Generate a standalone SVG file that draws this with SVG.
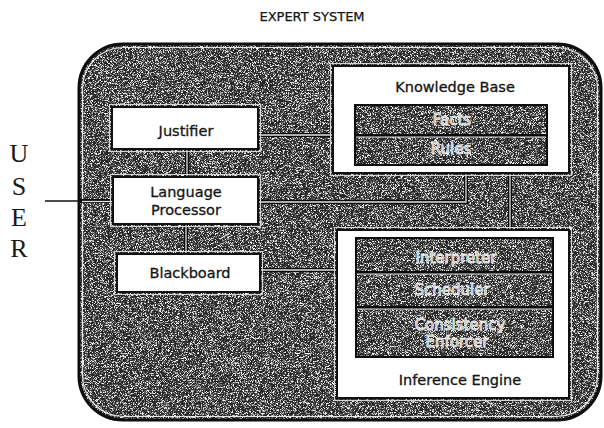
<svg xmlns="http://www.w3.org/2000/svg" width="604" height="428" viewBox="0 0 604 428">
  <defs>
    <!-- halftone grain used on the dark panel and the inner module strips -->
    <filter id="grain" x="0" y="0" width="1" height="1">
      <feTurbulence type="fractalNoise" baseFrequency="1.4" numOctaves="2" seed="7" result="noise"/>
      <feColorMatrix in="noise" type="matrix" values="0 0 0 0 1  0 0 0 0 1  0 0 0 0 1  1 0 0 0 0" result="mono"/>
      <feComponentTransfer in="mono" result="dots">
        <feFuncA type="linear" slope="5" intercept="-2.4"/>
      </feComponentTransfer>
      <feComposite in="dots" in2="SourceGraphic" operator="in"/>
    </filter>
    <style>
      .panel { fill: #262626; stroke: #0d0d0d; stroke-width: 3; }
      .panel-rim { fill: none; stroke: #e6e6e6; stroke-width: 1.2; }
      .speck { fill: #d0d0d0; filter: url(#grain); }
      .box { fill: #ffffff; stroke: #111111; stroke-width: 2; }
      .halo { fill: none; stroke: #d4d4d4; stroke-width: 1; }
      .strip { fill: #262626; stroke: #0d0d0d; stroke-width: 2; }
      .wire-bg { fill: none; stroke: #0a0a0a; stroke-width: 4; }
      .wire { fill: none; stroke: #e4e4e4; stroke-width: 1.3; }
      .lbl { font-family: "DejaVu Sans", "Liberation Sans", sans-serif; font-size: 14.5px; fill: #141414; stroke: #141414; stroke-width: 0.3; text-anchor: middle; }
      .hollow { font-family: "DejaVu Sans", "Liberation Sans", sans-serif; font-size: 15px; fill: #8c8c8c; stroke: #f4f4f4; stroke-width: 0.8; text-anchor: middle; }
      .title { font-family: "DejaVu Sans", "Liberation Sans", sans-serif; font-size: 13px; fill: #141414; stroke: #141414; stroke-width: 0.25; text-anchor: middle; }
      .user { font-family: "Liberation Serif", "DejaVu Serif", serif; font-size: 26px; fill: #1a1a1a; text-anchor: middle; }
    </style>
  </defs>

  <rect width="604" height="428" fill="#ffffff"/>

  <text class="title" x="312" y="21">EXPERT SYSTEM</text>

  <!-- USER label, stacked letters -->
  <g id="user">
    <text class="user" x="19" y="162">U</text>
    <text class="user" x="19" y="195">S</text>
    <text class="user" x="19" y="226">E</text>
    <text class="user" x="19" y="257">R</text>
  </g>

  <!-- expert system enclosure -->
  <g id="expert-system">
    <rect class="panel" x="79" y="44" width="522" height="376" rx="44" ry="44"/>
    <rect class="speck" x="80.5" y="45.5" width="519" height="373" rx="43" ry="43"/>
    <rect class="panel-rim" x="82.5" y="47.5" width="515" height="369" rx="41" ry="41"/>
  </g>

  <!-- connectors -->
  <g id="connectors">
    <line x1="45" y1="201" x2="80" y2="201" stroke="#111" stroke-width="1.6"/>
    <g class="wire-bg">
      <line x1="80" y1="201" x2="113" y2="201"/>
      <line x1="187" y1="149" x2="187" y2="177"/>
      <line x1="186" y1="224" x2="186" y2="254"/>
      <line x1="258" y1="135" x2="333" y2="135"/>
      <path d="M258,202 H466 V173"/>
      <line x1="510" y1="173" x2="510" y2="230"/>
      <line x1="260" y1="270" x2="337" y2="270"/>
    </g>
    <g class="wire">
      <line x1="82" y1="201.5" x2="113" y2="201.5"/>
      <line x1="187" y1="149" x2="187" y2="177"/>
      <line x1="186" y1="224" x2="186" y2="254"/>
      <line x1="258" y1="135" x2="333" y2="135"/>
      <path d="M258,202 H466 V173"/>
      <line x1="510" y1="173" x2="510" y2="230"/>
      <line x1="260" y1="270" x2="337" y2="270"/>
    </g>
    <path d="M220,239 L228,234" stroke="#e8e8e8" stroke-width="1.4" fill="none"/>
  </g>

  <g id="justifier">
    <rect class="halo" x="109.5" y="104.5" width="151" height="47"/>
    <rect class="box" x="112" y="107" width="146" height="42"/>
    <text class="lbl" x="186" y="136">Justifier</text>
  </g>

  <g id="language-processor">
    <rect class="halo" x="110.5" y="174.5" width="150" height="52"/>
    <rect class="box" x="113" y="177" width="145" height="47"/>
    <text class="lbl" x="186" y="197">Language</text>
    <text class="lbl" x="186" y="215">Processor</text>
  </g>

  <g id="blackboard">
    <rect class="halo" x="114.5" y="251.5" width="148" height="43"/>
    <rect class="box" x="117" y="254" width="143" height="38"/>
    <text class="lbl" x="190" y="278">Blackboard</text>
  </g>

  <g id="knowledge-base">
    <rect class="halo" x="330.5" y="63.5" width="241" height="112"/>
    <rect class="box" x="333" y="66" width="236" height="107"/>
    <text class="lbl" x="455" y="92">Knowledge Base</text>
    <rect class="strip" x="355" y="105" width="192" height="60"/>
    <rect class="speck" x="356" y="106" width="190" height="58"/>
    <line x1="356" y1="135.5" x2="546" y2="135.5" stroke="#0a0a0a" stroke-width="3"/>
    <line x1="356" y1="137" x2="546" y2="137" stroke="#e2e2e2" stroke-width="1.1"/>
    <text class="hollow" x="452" y="125">Facts</text>
    <text class="hollow" x="451" y="154">Rules</text>
  </g>

  <g id="inference-engine">
    <rect class="halo" x="334.5" y="227.5" width="237" height="173"/>
    <rect class="box" x="337" y="230" width="232" height="168"/>
    <rect class="strip" x="356" y="238" width="197" height="119"/>
    <rect class="speck" x="357" y="239" width="195" height="117"/>
    <line x1="357" y1="272.5" x2="552" y2="272.5" stroke="#0a0a0a" stroke-width="3"/>
    <line x1="357" y1="274" x2="552" y2="274" stroke="#e2e2e2" stroke-width="1.1"/>
    <line x1="357" y1="307.5" x2="552" y2="307.5" stroke="#0a0a0a" stroke-width="3"/>
    <line x1="357" y1="309" x2="552" y2="309" stroke="#e2e2e2" stroke-width="1.1"/>
    <text class="hollow" x="456" y="263">Interpreter</text>
    <text class="hollow" x="452" y="295">Scheduler</text>
    <text class="hollow" x="460" y="330">Consistency</text>
    <text class="hollow" x="457" y="347">Enforcer</text>
    <text class="lbl" x="460" y="385">Inference Engine</text>
  </g>
</svg>
